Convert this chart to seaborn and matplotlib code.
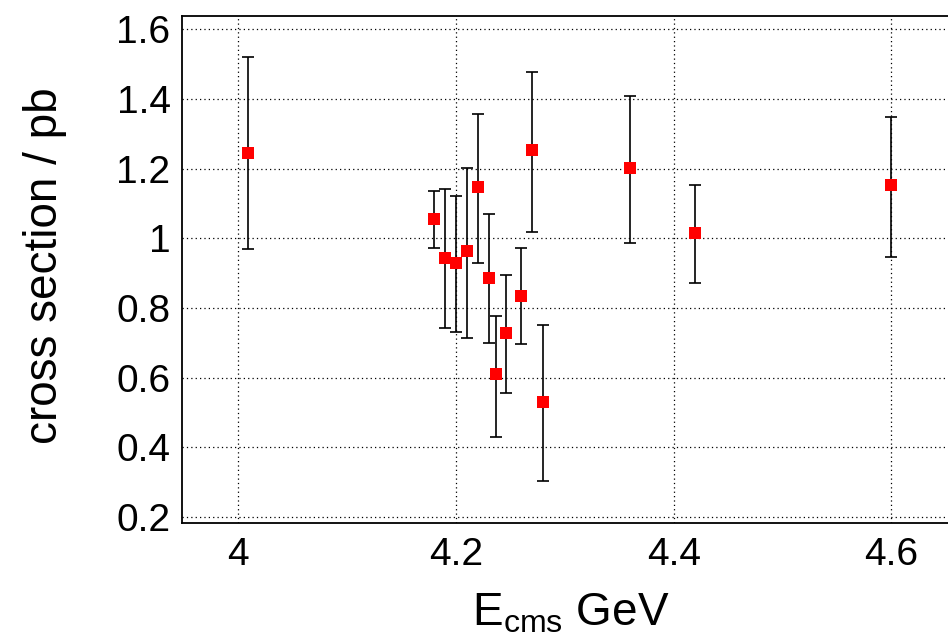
import matplotlib
matplotlib.use("Agg")
import matplotlib.pyplot as plt
import pandas as pd
import seaborn as sns
from matplotlib.ticker import MultipleLocator

# centre-of-mass energies (GeV) and measured cross sections (pb)
energy = [4.009, 4.180, 4.190, 4.200, 4.210, 4.220, 4.230, 4.237,
          4.246, 4.260, 4.270, 4.280, 4.360, 4.420, 4.600]
xsec = [1.245, 1.054, 0.944, 0.930, 0.963, 1.147, 0.887, 0.609,
        0.727, 0.833, 1.253, 0.530, 1.201, 1.015, 1.152]
err_hi = [1.520, 1.136, 1.140, 1.122, 1.202, 1.356, 1.070, 0.777,
          0.893, 0.973, 1.477, 0.751, 1.408, 1.153, 1.348]
err_lo = [0.970, 0.973, 0.743, 0.730, 0.713, 0.929, 0.699, 0.430,
          0.555, 0.695, 1.017, 0.304, 0.985, 0.871, 0.947]

df = pd.DataFrame({"E": energy, "xs": xsec, "hi": err_hi, "lo": err_lo})

sns.set_theme(style="white")
plt.rcParams["font.family"] = ["Liberation Sans", "DejaVu Sans"]
plt.rcParams["mathtext.fontset"] = "custom"
plt.rcParams["mathtext.rm"] = "Liberation Sans"
plt.rcParams["text.color"] = "black"
plt.rcParams["axes.labelcolor"] = "black"
plt.rcParams["xtick.color"] = "black"
plt.rcParams["ytick.color"] = "black"

fig = plt.figure(figsize=(9.48, 6.42), dpi=100)
ax = fig.add_axes([0.1917, 0.1858, 0.8083, 0.7897])

ax.errorbar(df["E"], df["xs"],
            yerr=[df["xs"] - df["lo"], df["hi"] - df["xs"]],
            fmt="none", ecolor="black", elinewidth=1.2, capsize=4, capthick=1.2, zorder=3)
sns.scatterplot(data=df, x="E", y="xs", marker="s", color="#ff0000", s=75,
                edgecolor="none", ax=ax, zorder=4)

ax.set_xlim(3.948, 4.652)
ax.set_ylim(0.183, 1.639)
ax.xaxis.set_minor_locator(MultipleLocator(0.05))
ax.yaxis.set_minor_locator(MultipleLocator(0.05))
ax.set_xticks([4.0, 4.2, 4.4, 4.6])
ax.set_xticklabels(["4", "4.2", "4.4", "4.6"])
ax.set_yticks([0.2, 0.4, 0.6, 0.8, 1.0, 1.2, 1.4, 1.6])
ax.set_yticklabels(["0.2", "0.4", "0.6", "0.8", "1", "1.2", "1.4", "1.6"])

ax.grid(True, which="major", color="black", linestyle=(0, (1, 2.5)), linewidth=0.9)
ax.tick_params(axis="both", which="both", direction="in", labelsize=28, color="black",
               labelcolor="black")
ax.tick_params(axis="x", which="major", length=11.5, width=1.2, pad=10)
ax.tick_params(axis="x", which="minor", length=6, width=1.2)
ax.tick_params(axis="y", which="major", length=16, width=1.2, pad=8)
ax.tick_params(axis="y", which="minor", length=8.5, width=1.2)

for side in ["left", "bottom", "top"]:
    ax.spines[side].set_color("black")
    ax.spines[side].set_linewidth(1.3)
ax.spines["right"].set_visible(False)

ax.set_xlabel(r"E$_{\mathrm{cms}}$ GeV", fontsize=33)
ax.set_ylabel("cross section / pb", fontsize=33)
ax.xaxis.set_label_coords(0.508, -0.136)
ax.yaxis.set_label_coords(-0.150, 0.506)

fig.savefig("out.png", dpi=100)
